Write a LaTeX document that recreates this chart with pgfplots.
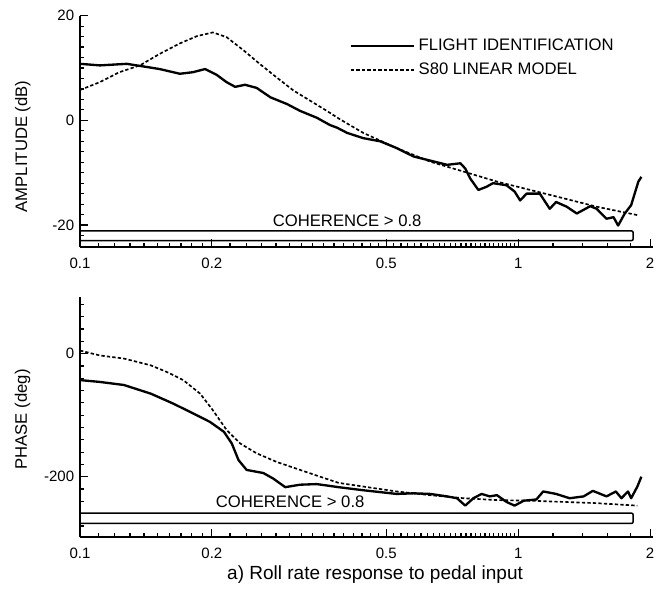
\documentclass[border=0pt]{standalone}
\usepackage{fontspec}
\setmainfont{Liberation Sans}
\usepackage{pgfplots}
\pgfplotsset{compat=1.18}
\tikzset{
  solidl/.style={black, line width=1.4pt, line join=round},
  dotl/.style={black, line width=1pt, dash pattern=on 2pt off 1.3pt},
  coh/.style={black, line width=0.9pt, rounded corners=1.2pt},
}
\begin{document}
\begin{tikzpicture}
\useasboundingbox (-48pt,9.4pt) rectangle (355.2pt,-350pt);
\begin{axis}[scale only axis, width=343.8pt, height=138.8pt, at={(0,0)}, anchor=north west,
  xmode=log, xmin=0.1, xmax=2.03,
  axis x line=bottom, axis y line=left,
  axis line style={-, line width=0.9pt},
  tick align=inside,
  major tick length=5pt, minor tick length=2.5pt,
  every tick/.style={black, line width=0.7pt},
  xtick={0.1,0.2,0.5,1,2}, xticklabels={0.1,0.2,0.5,1,2},
  minor xtick={0.11,0.12,0.13,0.14,0.15,0.16,0.17,0.18,0.19,0.22,0.24,0.26,0.28,0.3,0.32,0.34,0.36,0.38,0.4,0.42,0.44,0.46,0.48,0.52,0.54,0.56,0.58,0.6,0.62,0.64,0.66,0.68,0.7,0.72,0.74,0.76,0.78,0.8,0.82,0.84,0.86,0.88,0.9,0.92,0.94,0.96,0.98,1.2,1.4,1.6,1.8},
  tick label style={font=\fontsize{9}{10}\selectfont},
  xticklabel style={yshift=-3pt},
  ymin=-24.2, ymax=20, ytick={-20,0,20}, yticklabels={-20,0,20},
  minor ytick={-22,-18,-16,-14,-12,-10,-8,-6,-4,-2,2,4,6,8,10,12,14,16,18},
  ylabel={AMPLITUDE (dB)},
  ylabel style={at={(axis description cs:-0.1,0.435)}, rotate=0, anchor=center, font=\fontsize{10}{12}\selectfont},
  legend style={at={(axis description cs:0.47,0.915)}, anchor=north west, draw=none, fill=none, inner sep=0pt, font=\fontsize{10}{12}\selectfont, row sep=2pt},
  legend cell align=left,
  legend image code/.code={\draw[#1] (0pt,0pt) -- (38pt,0pt);},
]
\addplot[solidl] coordinates {(0.1,10.8) (0.1111,10.5) (0.1278,10.8) (0.1395,10.3) (0.152,9.8) (0.169,8.9) (0.181,9.2) (0.193,9.8) (0.205,8.7) (0.216,7.3) (0.226,6.4) (0.238,6.8) (0.253,6.2) (0.272,4.4) (0.297,3.1) (0.318,1.8) (0.347,0.5) (0.372,-0.9) (0.386,-1.4) (0.407,-2.4) (0.443,-3.4) (0.484,-4.0) (0.528,-5.3) (0.577,-6.9) (0.630,-7.7) (0.688,-8.5) (0.738,-8.2) (0.757,-9.2) (0.777,-11.1) (0.811,-13.3) (0.846,-12.7) (0.876,-12.0) (0.940,-12.4) (0.981,-13.6) (1.01,-15.3) (1.045,-14.0) (1.12,-14.0) (1.18,-16.9) (1.22,-15.6) (1.29,-16.5) (1.36,-17.8) (1.46,-16.4) (1.51,-16.9) (1.59,-18.8) (1.65,-18.5) (1.69,-20.1) (1.75,-17.8) (1.81,-16.2) (1.85,-13.6) (1.88,-11.7) (1.91,-10.8)};
\addlegendentry{FLIGHT IDENTIFICATION}
\addplot[dotl] coordinates {(0.1,5.8) (0.111,7.3) (0.123,9.2) (0.137,10.5) (0.152,12.7) (0.169,14.7) (0.185,16.1) (0.201,16.8) (0.216,15.9) (0.236,13.4) (0.257,10.8) (0.281,8.2) (0.307,5.7) (0.336,3.7) (0.366,1.8) (0.392,0.2) (0.443,-2.4) (0.528,-5.3) (0.630,-7.9) (0.751,-9.8) (0.894,-11.7) (1.065,-13.3) (1.27,-14.9) (1.51,-16.5) (1.87,-18.1)};
\addlegendentry{S80 LINEAR MODEL}
\addplot[coh, forget plot] coordinates {(0.1,-21.1) (1.83,-21.1) (1.83,-23.0) (0.1,-23.0)};
\node[font=\fontsize{10}{12}\selectfont] at (axis cs:0.407,-19.1) {COHERENCE > 0.8};
\end{axis}
\begin{axis}[scale only axis, width=343.8pt, height=144pt, at={(0,-168.8pt)}, anchor=north west,
  clip=false,
  xmode=log, xmin=0.1, xmax=2.03,
  axis x line=bottom, axis y line=left,
  axis line style={-, line width=0.9pt},
  tick align=inside,
  major tick length=5pt, minor tick length=2.5pt,
  every tick/.style={black, line width=0.7pt},
  xtick={0.1,0.2,0.5,1,2}, xticklabels={0.1,0.2,0.5,1,2},
  minor xtick={0.11,0.12,0.13,0.14,0.15,0.16,0.17,0.18,0.19,0.22,0.24,0.26,0.28,0.3,0.32,0.34,0.36,0.38,0.4,0.42,0.44,0.46,0.48,0.52,0.54,0.56,0.58,0.6,0.62,0.64,0.66,0.68,0.7,0.72,0.74,0.76,0.78,0.8,0.82,0.84,0.86,0.88,0.9,0.92,0.94,0.96,0.98,1.2,1.4,1.6,1.8},
  tick label style={font=\fontsize{9}{10}\selectfont},
  xticklabel style={yshift=-3pt},
  ymin=-298, ymax=92, ytick={-200,0}, yticklabels={-200,0},
  minor ytick={-280,-260,-240,-220,-180,-160,-140,-120,-100,-80,-60,-40,-20,20,40,60,80},
  ylabel={PHASE (deg)},
  ylabel style={at={(axis description cs:-0.1,0.49)}, rotate=0, anchor=center, font=\fontsize{10}{12}\selectfont},
]
\addplot[solidl] coordinates {(0.1,-43) (0.111,-46) (0.126,-51) (0.145,-65) (0.163,-81) (0.181,-97) (0.198,-111) (0.213,-127) (0.222,-146) (0.230,-173) (0.240,-189) (0.262,-194) (0.276,-203) (0.294,-217) (0.318,-213) (0.347,-212) (0.389,-217) (0.443,-222) (0.528,-228) (0.577,-227) (0.630,-228) (0.688,-232) (0.725,-235) (0.757,-247) (0.790,-235) (0.825,-228) (0.861,-232) (0.894,-230) (0.940,-241) (0.981,-247) (1.03,-239) (1.10,-237) (1.14,-224) (1.22,-228) (1.31,-235) (1.41,-232) (1.48,-223) (1.59,-232) (1.67,-224) (1.72,-235) (1.78,-224) (1.81,-235) (1.87,-216) (1.91,-200)};
\addplot[dotl] coordinates {(0.1,5) (0.111,-3) (0.126,-8) (0.145,-19) (0.158,-30) (0.172,-43) (0.188,-65) (0.201,-92) (0.216,-124) (0.232,-146) (0.253,-162) (0.281,-176) (0.318,-189) (0.353,-200) (0.389,-210) (0.443,-216) (0.528,-224) (0.630,-230) (0.751,-235) (0.894,-238) (1.065,-239) (1.27,-241) (1.51,-243) (1.87,-247)};
\addplot[coh] coordinates {(0.1,-259) (1.83,-259) (1.83,-276) (0.1,-276)};
\node[font=\fontsize{10}{12}\selectfont] at (axis cs:0.3016,-241) {COHERENCE > 0.8};
\node[font=\fontsize{11.4}{13.5}\selectfont] at (axis description cs:0.515,-0.158) {a) Roll rate response to pedal input};
\end{axis}
\end{tikzpicture}
\end{document}
